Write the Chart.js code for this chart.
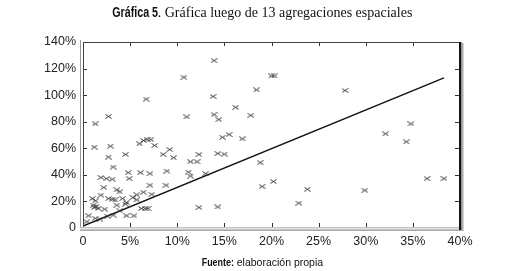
<!DOCTYPE html>
<html>
<head>
<meta charset="utf-8">
<script src="https://cdn.jsdelivr.net/npm/chart.js@4.4.1/dist/chart.umd.min.js"></script>
<style>
body { margin: 0; background: #fff; }
#wrap { position: relative; width: 525px; height: 271px; }
#chart1 { position: absolute; left: 0; top: 0; }
.title { position: absolute; left: 0; top: 3px; width: 525px; text-align: center; color: #111; white-space: nowrap; }
.title b { display: inline-block; font-family: "Liberation Sans", Arial, sans-serif; font-weight: bold; font-size: 14.5px; transform: scaleX(0.74); transform-origin: right center; margin-left: -17px; }
.title span { font-family: "Liberation Serif", serif; font-size: 14px; }
.source { position: absolute; left: 0; top: 256px; width: 525px; text-align: center; font-family: "Liberation Sans", Arial, sans-serif; font-size: 10.5px; color: #111; white-space: nowrap; }
.source b { display: inline-block; transform: scaleX(0.85); transform-origin: right center; margin-left: -6px; }
</style>
</head>
<body>
<div id="wrap">
  <canvas id="chart1" width="525" height="271"></canvas>
  <div class="title"><b>Gráfica 5</b><span>. Gráfica luego de 13 agregaciones espaciales</span></div>
  <div class="source"><b>Fuente:</b> elaboración propia</div>
</div>
<script>
// values, in percent
var xTicks = [0, 5, 10, 15, 20, 25, 30, 35, 40];
var yTicks = [0, 20, 40, 60, 80, 100, 120, 140];

var pointsX = [13.9, 10.7, 20.0, 20.3, 6.7, 13.8, 18.4, 16.2, 11.0, 13.9,
    14.4, 17.8, 14.8, 15.5, 16.9, 27.8, 12.3, 14.3, 15.0, 11.4,
    12.1, 18.8, 11.2, 11.4, 13.0, 19.0, 20.2, 23.8, 22.9, 12.3,
    14.3, 34.8, 32.1, 34.3, 36.5, 38.3, 29.9,
    1.3, 2.7, 1.2, 2.9, 2.7, 4.5, 6.0, 6.4, 6.8, 7.2,
    7.6, 8.5, 9.2, 9.6, 3.2, 4.8, 6.1, 7.1, 8.9, 1.9,
    2.5, 3.1, 4.9, 7.1, 8.8, 2.2, 3.6, 3.9, 7.3, 5.7,
    6.4, 1.0, 1.3, 1.9, 2.7, 3.1, 3.4, 4.2, 4.6, 5.7,
    5.3, 1.1, 1.2, 1.4, 1.6, 2.3, 3.6, 4.5, 6.2, 6.6,
    6.9, 0.6, 1.3, 1.8, 2.6, 3.2, 4.6, 5.4, 3.9, 0.4];
var pointsY = [126, 113.5, 114.5, 114.5, 97, 99, 104, 90.8, 83.6, 85.3,
    81.6, 84.8, 68.3, 70.4, 67.1, 103.5, 55.4, 56.1, 55.6, 49.9,
    49.9, 49.2, 42.1, 39.1, 40.9, 31.2, 35, 29.2, 18.7, 15.5,
    15.9, 78.4, 70.9, 64.9, 37.2, 37.2, 28.4,
    78.4, 84, 60.9, 61.6, 53.4, 55.4, 63.4, 65.9, 66.6, 66.6,
    62.1, 55.4, 59.1, 52.9, 45.9, 41.7, 41.7, 40.9, 42.9, 38,
    37.2, 36.7, 37.2, 32.2, 32.2, 30.5, 28.7, 27.2, 25.4, 25,
    27, 22.2, 20.4, 24.7, 22.2, 21.7, 21.2, 22.2, 19.2, 21.2,
    23.0, 17.2, 15.5, 16.5, 14.7, 14.2, 17.2, 18, 14.7, 14.7,
    14.7, 9.2, 7.3, 6.7, 8.8, 9.7, 9.2, 9.2, 13, 4.7];

// fitted line, start and end
var lineX = [0, 38.3];
var lineY = [1.5, 113];

function pct(v) {
    return v === 0 ? '0' : v + '%';
}

// small "x" marker, a bit wider than tall
var mark = document.createElement('canvas');
mark.width = 7;
mark.height = 5;
var mctx = mark.getContext('2d');
mctx.strokeStyle = '#333';
mctx.lineWidth = 1;
mctx.beginPath();
mctx.moveTo(0.5, 0.5); mctx.lineTo(6.5, 4.5);
mctx.moveTo(6.5, 0.5); mctx.lineTo(0.5, 4.5);
mctx.stroke();

var scatterData = [];
for (var i = 0; i < pointsX.length; i++) {
    scatterData.push({x: pointsX[i], y: pointsY[i]});
}
var lineData = [];
for (var j = 0; j < lineX.length; j++) {
    lineData.push({x: lineX[j], y: lineY[j]});
}

// box round the plot with inward ticks
var framePlugin = {
    id: 'frame',
    afterDatasetsDraw: function(chart) {
        var ctx = chart.ctx;
        var a = chart.chartArea;
        var sx = chart.scales.x;
        var sy = chart.scales.y;
        ctx.save();
        ctx.lineWidth = 1;

        // ticks
        ctx.strokeStyle = '#333';
        ctx.beginPath();
        xTicks.forEach(function(v) {
            if (v === 0 || v === 40) return;
            var px = Math.round(sx.getPixelForValue(v)) + 0.5;
            ctx.moveTo(px, a.top); ctx.lineTo(px, a.top + 4);
            ctx.moveTo(px, a.bottom - 1); ctx.lineTo(px, a.bottom - 5);
        });
        yTicks.forEach(function(v) {
            if (v === 0 || v === 140) return;
            var py = Math.round(sy.getPixelForValue(v)) + 0.5;
            ctx.moveTo(a.left, py); ctx.lineTo(a.left + 4, py);
            ctx.moveTo(a.right - 1, py); ctx.lineTo(a.right - 5, py);
        });
        ctx.stroke();

        // top and left
        ctx.strokeStyle = '#444';
        ctx.beginPath();
        ctx.moveTo(a.left, a.top + 0.5); ctx.lineTo(a.right, a.top + 0.5);
        ctx.moveTo(a.left + 0.5, a.top); ctx.lineTo(a.left + 0.5, a.bottom);
        ctx.stroke();
        ctx.strokeStyle = '#999';
        ctx.beginPath();
        ctx.moveTo(a.left - 2.5, a.top - 2); ctx.lineTo(a.left - 2.5, a.bottom + 2);
        ctx.stroke();

        // bottom band
        var g = ctx.createLinearGradient(0, a.bottom - 2, 0, a.bottom + 3);
        g.addColorStop(0, '#8a8a8a');
        g.addColorStop(0.5, '#e4e4e4');
        g.addColorStop(1, '#9a9a9a');
        ctx.fillStyle = g;
        ctx.fillRect(a.left - 3, a.bottom - 1, a.right - a.left + 6, 4);

        // right edge, dark with shadow
        ctx.fillStyle = '#111';
        ctx.fillRect(a.right - 1, a.top, 2.5, a.bottom - a.top + 2);
        ctx.fillStyle = '#aaa';
        ctx.fillRect(a.right + 1.5, a.top + 1, 2, a.bottom - a.top + 2);
        ctx.restore();
    }
};

var ctx1 = document.getElementById('chart1').getContext('2d');
window.scatter_chart = new Chart(ctx1, {
    type: 'scatter',
    data: {
        datasets: [{
            label: 'agregaciones',
            data: scatterData,
            pointStyle: mark,
            pointRadius: 3
        }, {
            type: 'line',
            label: 'recta',
            data: lineData,
            borderColor: '#111',
            borderWidth: 1.4,
            pointRadius: 0,
            fill: false
        }]
    },
    options: {
        responsive: false,
        animation: false,
        devicePixelRatio: 1,
        layout: {
            padding: {left: 0, right: 65, top: 42, bottom: 0}
        },
        plugins: {
            legend: {display: false},
            tooltip: {enabled: false}
        },
        scales: {
            x: {
                type: 'linear',
                min: 0,
                max: 40,
                afterBuildTicks: function(axis) {
                    axis.ticks = xTicks.map(function(v) { return {value: v}; });
                },
                afterFit: function(axis) { axis.height = 43; },
                grid: {display: false, drawTicks: false},
                border: {display: false},
                ticks: {
                    padding: 6,
                    color: '#222',
                    font: {family: 'Liberation Sans, Arial, sans-serif', size: 12.5},
                    maxRotation: 0,
                    callback: pct
                }
            },
            y: {
                type: 'linear',
                min: 0,
                max: 140,
                afterBuildTicks: function(axis) {
                    axis.ticks = yTicks.map(function(v) { return {value: v}; });
                },
                afterFit: function(axis) { axis.width = 83; },
                grid: {display: false, drawTicks: false},
                border: {display: false},
                ticks: {
                    padding: 7,
                    color: '#222',
                    font: {family: 'Liberation Sans, Arial, sans-serif', size: 12.5},
                    callback: pct
                }
            }
        }
    },
    plugins: [framePlugin]
});
</script>
</body>
</html>
